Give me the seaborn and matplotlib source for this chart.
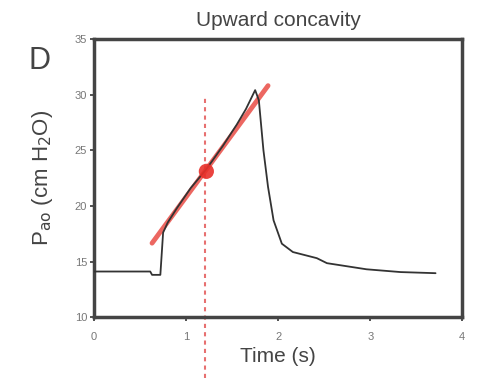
import matplotlib
matplotlib.use("Agg")
import matplotlib.pyplot as plt
import seaborn as sns
import pandas as pd

# Data
time_s = [0.0, 0.3, 0.61, 0.63, 0.72, 0.75, 0.8, 0.9, 1.05, 1.22, 1.4, 1.55, 1.65, 1.75,
          1.79, 1.84, 1.89, 1.95, 2.04, 2.16, 2.42, 2.53, 2.96, 3.33, 3.71]
pao = [14.1, 14.1, 14.1, 13.8, 13.8, 17.6, 18.5, 19.8, 21.6, 23.3, 25.4, 27.3, 28.7, 30.4,
       29.5, 25.0, 21.7, 18.7, 16.6, 15.85, 15.3, 14.85, 14.3, 14.05, 13.95]
fit_t = [0.63, 1.89]
fit_p = [16.65, 30.8]
mark_t = [1.22]
mark_p = [23.1]
vline_t = 1.21
x_ticks = [0, 1, 2, 3, 4]
y_ticks = [10, 15, 20, 25, 30, 35]

sns.set_theme(style="ticks")
plt.rcParams['font.family'] = ['Liberation Sans', 'DejaVu Sans']

fig = plt.figure(figsize=(4.8, 3.78), dpi=100)
ax = fig.add_axes([0.196, 0.161, 0.767, 0.736])

df = pd.DataFrame({"t": time_s, "p": pao})
fit = pd.DataFrame({"t": fit_t, "p": fit_p})
mk = pd.DataFrame({"t": mark_t, "p": mark_p})

sns.lineplot(data=fit, x="t", y="p", ax=ax, color="#e8413a", lw=3.5, alpha=0.8, zorder=2)
sns.lineplot(data=df, x="t", y="p", ax=ax, color="#333333", lw=1.3, zorder=3)
sns.scatterplot(data=mk, x="t", y="p", ax=ax, color="#e8302a", s=120, edgecolor="none",
                alpha=0.9, zorder=4)
ax.axvline(vline_t, ymin=-0.22, ymax=0.788, color="#e04040", lw=1.5, ls=(0, (2, 2)),
           alpha=0.75, clip_on=False, zorder=1)

ax.set_xlim(0, 4)
ax.set_ylim(10, 35)
ax.set_xticks(x_ticks)
ax.set_yticks(y_ticks)
ax.tick_params(axis="both", labelsize=8, labelcolor="#777777", length=3, width=1.2,
               color="#333333", direction="out", pad=2)
ax.tick_params(axis="x", pad=8)
for s in ax.spines.values():
    s.set_visible(True)
    s.set_linewidth(2.5)
    s.set_color("#444444")

ax.set_xlabel("Time (s)", fontsize=15, color="#444444", labelpad=3)
ax.set_ylabel(r"P$_{\rm ao}$ (cm H$_2$O)", fontsize=16, color="#444444", labelpad=14)
ax.set_title("Upward concavity", fontsize=15, color="#444444", pad=9)
fig.text(0.083, 0.838, "D", fontsize=22, color="#444444", ha="center", va="center")

fig.savefig("out.png", dpi=100)
